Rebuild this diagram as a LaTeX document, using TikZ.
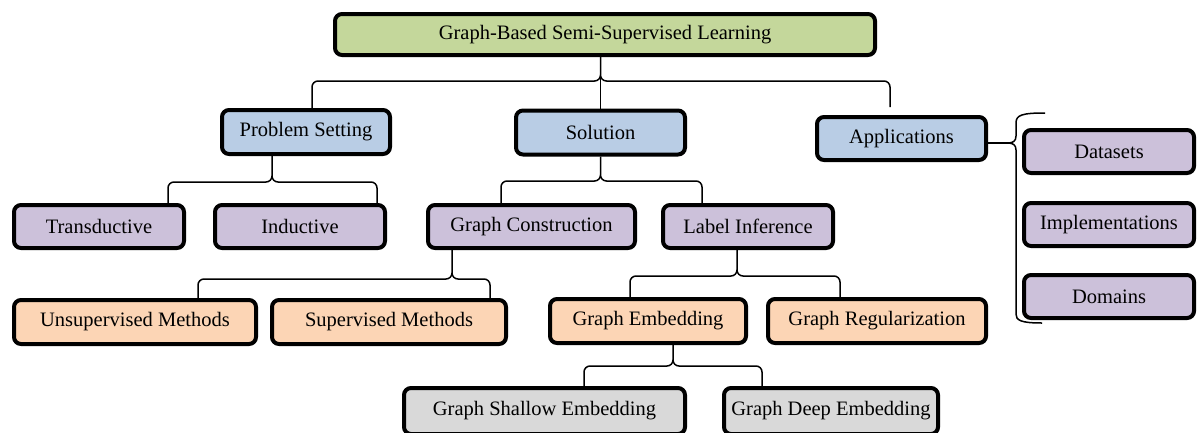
\documentclass[tikz,border=0pt]{standalone}
\usepackage{fontspec}
\setmainfont{Liberation Serif}
\usetikzlibrary{calc}

\definecolor{cgreen}{HTML}{C4D79B}
\definecolor{cblue}{HTML}{B9CDE5}
\definecolor{cpurple}{HTML}{CCC1DA}
\definecolor{corange}{HTML}{FCD5B5}
\definecolor{cgray}{HTML}{D9D9D9}

\tikzset{
  box/.style={draw=black, line width=4pt, rounded corners=7pt,
    minimum height=44pt, inner sep=0pt, align=center,
    font=\fontsize{20.5}{24}\selectfont},
  brace/.style={draw=black, line width=1.5pt, line join=round},
}

% curly brace opening downwards: #1 tip on the parent, #2/#3 feet on the
% children, #4 height of the bar above the left foot
\newcommand\bracedown[4]{%
  \draw[brace] let \p1=(#1), \p2=(#2), \p3=(#3), \p4=($(#2)+(0,-#4)$) in
    (\x1,\y1) -- (\x1,{\y4+6pt})
    (\x2,\y2) -- (\x2,{\y4-6pt}) arc[start angle=180,end angle=90,radius=6pt]
    -- ({\x1-6pt},\y4) arc[start angle=270,end angle=360,radius=6pt]
    arc[start angle=180,end angle=270,radius=6pt]
    -- ({\x3-6pt},\y4) arc[start angle=90,end angle=0,radius=6pt]
    -- (\x3,\y3);
}

\begin{document}
\begin{tikzpicture}[x=1pt,y=-1pt]
\useasboundingbox[fill=white] (0,0) rectangle (1201,432);

% root
\node[box, fill=cgreen, minimum width=540pt, minimum height=41pt] (root) at (605,34.5)
  {Graph-Based Semi-Supervised Learning};

% first level
\node[box, fill=cblue, minimum width=168pt] (ps)  at (306,132)   {Problem Setting};
\node[box, fill=cblue, minimum width=169pt] (sol) at (600.5,132.5) {Solution};
\node[box, fill=cblue, minimum width=169pt, minimum height=43pt] (app) at (901.5,138.5) {Applications};

% second level
\node[box, fill=cpurple, minimum width=170pt, minimum height=43pt] (tr)  at (99,226.5)   {Transductive};
\node[box, fill=cpurple, minimum width=170pt, minimum height=43pt] (ind) at (300,226.5)  {Inductive};
\node[box, fill=cpurple, minimum width=207pt, minimum height=43pt] (gc)  at (531.5,226.5) {Graph Construction};
\node[box, fill=cpurple, minimum width=170pt, minimum height=43pt] (li)  at (748,226.5)  {Label Inference};

% applications
\node[box, fill=cpurple, minimum width=170pt, minimum height=43pt] (ds)  at (1109,151.5) {Datasets};
\node[box, fill=cpurple, minimum width=170pt, minimum height=43pt] (imp) at (1109,224.5) {Implementations};
\node[box, fill=cpurple, minimum width=170pt, minimum height=43pt] (dom) at (1109,296.5) {Domains};

% third level
\node[box, fill=corange, minimum width=242pt] (um) at (135,322) {Unsupervised Methods};
\node[box, fill=corange, minimum width=234pt] (sm) at (389,322) {Supervised Methods};
\node[box, fill=corange, minimum width=196pt] (ge) at (648,321) {Graph Embedding};
\node[box, fill=corange, minimum width=218pt] (gr) at (877,321) {Graph Regularization};

% fourth level
\node[box, fill=cgray, minimum width=281pt, minimum height=46pt] (gse) at (544.5,411) {Graph Shallow Embedding};
\node[box, fill=cgray, minimum width=214pt, minimum height=46pt] (gde) at (831,411)   {Graph Deep Embedding};

% braces
\coordinate (rootR) at (890,107);
\bracedown{sol.north |- root.south}{[xshift=92pt]ps.north west}{rootR}{27}
\draw[brace] (sol.north |- root.south) -- (sol.north);
\bracedown{[xshift=-34pt]ps.south}{[xshift=-18pt]tr.north east}{[xshift=-10pt]ind.north east}{21}
\bracedown{sol.south}{[xshift=75pt]gc.north west}{[xshift=41pt]li.north west}{22}
\bracedown{[xshift=26pt]gc.south west}{[xshift=186pt]um.north west}{[xshift=-18pt]sm.north east}{19}
\bracedown{[xshift=-11pt]li.south}{[xshift=82pt]ge.north west}{[xshift=74pt]gr.north west}{21}
\bracedown{[xshift=25pt]ge.south}{[xshift=-103pt]gse.north east}{[xshift=40pt]gde.north west}{20}

% brace joining Applications to its three children
\coordinate (appTop) at (1045,113);
\coordinate (appBot) at (1042,323);
\coordinate (appTip) at (1008,143);
\draw[brace] ([yshift=-4.5pt]app.east) -- (appTip);
\draw[brace] (appTop) .. controls (1022,113) and (1016,115) .. (1016,123)
  -- (1016,136) .. controls (1016,141) and (1013,143) .. (appTip)
  .. controls (1013,143) and (1016,145) .. (1016,150)
  -- (1016,314) .. controls (1016,320) and (1020,323) .. (appBot);
\end{tikzpicture}
\end{document}
